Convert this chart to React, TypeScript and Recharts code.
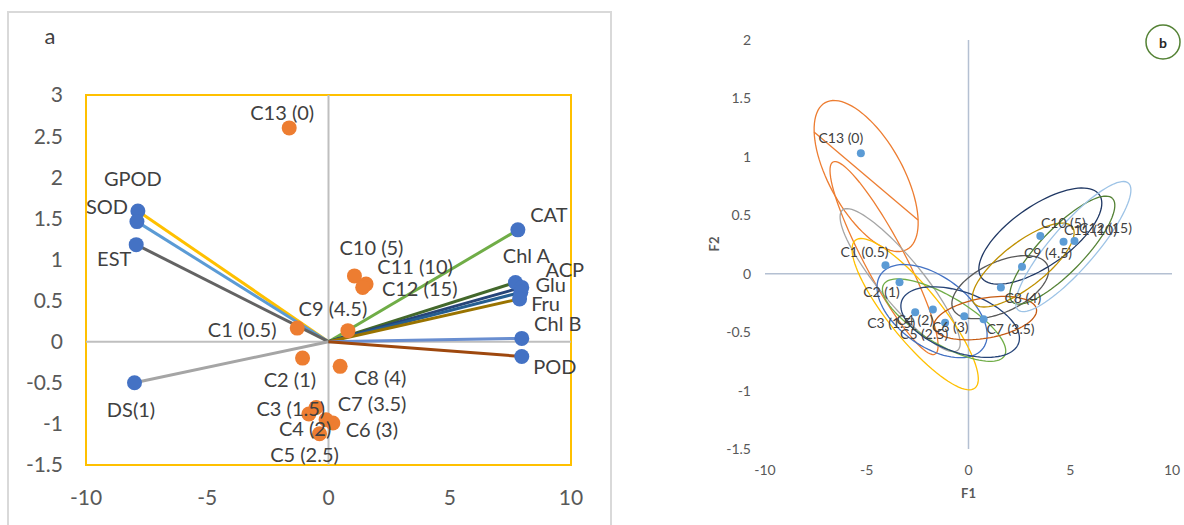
import React from 'react';
import { ScatterChart, Scatter, XAxis, YAxis, ReferenceLine, ReferenceArea } from 'recharts';

const FONT = 'Lato, "Open Sans", "DejaVu Sans", sans-serif';

// ---------- Panel a: variable loadings (vectors drawn from the origin) ----------
const loadingNames = ['GPOD', 'SOD', 'EST', 'DS(1)', 'CAT', 'Chl A', 'ACP', 'Glu', 'Fru', 'Chl B', 'POD'];
const loadingF1 = [-7.86, -7.9, -7.93, -8.0, 7.81, 7.71, 7.97, 7.93, 7.88, 7.97, 7.97];
const loadingF2 = [1.59, 1.46, 1.18, -0.5, 1.36, 0.72, 0.66, 0.6, 0.52, 0.04, -0.18];
const loadingColors = ['#FFC000', '#5B9BD5', '#636363', '#A5A5A5', '#70AD47', '#43682B', '#264478', '#255E91', '#997300', '#698ED0', '#9E480E'];

// ---------- Observations (concentration groups) ----------
const obsNames = ['C1 (0.5)', 'C2 (1)', 'C3 (1.5)', 'C4 (2)', 'C5 (2.5)', 'C6 (3)', 'C7 (3.5)', 'C8 (4)', 'C9 (4.5)', 'C10 (5)', 'C11 (10)', 'C12 (15)', 'C13 (0)'];
// scores as plotted in panel a
const obsAF1 = [-1.29, -1.07, -0.81, -0.51, -0.37, 0.18, -0.1, 0.48, 0.8, 1.07, 1.55, 1.41, -1.62];
const obsAF2 = [0.165, -0.2, -0.88, -0.8, -1.12, -0.99, -0.95, -0.3, 0.134, 0.8, 0.7, 0.66, 2.6];
// scores as plotted in panel b
const obsBF1 = [-4.08, -3.39, -2.62, -1.75, -1.15, -0.21, 0.74, 1.59, 2.63, 3.53, 4.67, 5.21, -5.29];
const obsBF2 = [0.072, -0.074, -0.33, -0.306, -0.42, -0.363, -0.389, -0.117, 0.059, 0.322, 0.273, 0.279, 1.03];

// ---------- Panel b: confidence ellipses (centre + two conjugate half-axes, in F1/F2 units) ----------
const ellipseCenters: [number, number][] = [
  [-5.03, 0.836], [-4.15, 0.134], [-3.36, -0.055], [-2.62, -0.346], [-1.79, -0.32], [-1.2, -0.397],
  [-0.41, -0.414], [0.82, -0.38], [1.56, -0.115], [3.53, 0.322], [2.69, 0.074], [4.61, 0.202], [5.15, 0.232],
];
const ellipseAxisU: [number, number][] = [
  [2.01, -0.628], [2.51, -0.822], [2.83, -0.6], [2.94, -0.632], [2.51, -0.317], [2.97, -0.305],
  [2.87, -0.182], [2.52, 0.077], [2.32, 0.188], [2.9, 0.354], [2.41, 0.327], [2.46, 0.443], [2.71, 0.543],
];
const ellipseAxisV: [number, number][] = [
  [-1.58, -0.153], [-0.868, -0.08], [-0.836, -0.12], [-0.99, -0.14], [-1.01, -0.242], [-0.6, -0.177],
  [-0.504, -0.241], [0.171, -0.169], [0.52, -0.194], [0.847, -0.21], [0.667, -0.148], [0.778, -0.131], [0.817, -0.124],
];
const ellipseColors = ['#ED7D31', '#ED7D31', '#A5A5A5', '#FFC000', '#4472C4', '#70AD47', '#264478', '#C55A11', '#595959', '#203864', '#BF9000', '#548235', '#9DC3E6'];
// extra orange stroke across the C13 ellipse
const strokeC13F1 = [-7.59, -2.48];
const strokeC13F2 = [1.212, 0.459];

const ticksA_X = [-10, -5, 0, 5, 10];
const ticksA_Y = [-1.5, -1, -0.5, 0, 0.5, 1, 1.5, 2, 2.5, 3];
const ticksB_X = [-10, -5, 0, 5, 10];
const ticksB_Y = [-1.5, -1, -0.5, 0, 0.5, 1, 1.5, 2];

// label placement (pixel offsets from the marker)
const labelOffsetA: Record<string, [number, number]> = {
  GPOD: [-5, -33], SOD: [-30, -15.5], EST: [-22, 13], 'DS(1)': [-3.5, 26.5], CAT: [31, -16],
  'Chl A': [11, -27], ACP: [43, -18], Glu: [30, -8], Fru: [26, 4], 'Chl B': [36, -15], POD: [33, 10],
  'C13 (0)': [-7, -15.5], 'C10 (5)': [17, -29], 'C11 (10)': [49, -18], 'C12 (15)': [57, 0.5],
  'C9 (4.5)': [-15, -23], 'C1 (0.5)': [-55, 0.6], 'C2 (1)': [-12.6, 20.5], 'C8 (4)': [40, 11],
  'C7 (3.5)': [46, -17], 'C6 (3)': [39, 6], 'C3 (1.5)': [-18, -6.5], 'C4 (2)': [-11, 21], 'C5 (2.5)': [-15, 20.6],
};
const labelOffsetB: Record<string, [number, number]> = {
  'C13 (0)': [-20, -15.5], 'C1 (0.5)': [-21, -14], 'C2 (1)': [-18, 9], 'C3 (1.5)': [-24, 10],
  'C4 (2)': [-18, 10], 'C5 (2.5)': [-21, 11], 'C6 (3)': [-14, 10], 'C7 (3.5)': [27, 9],
  'C8 (4)': [22, 10], 'C9 (4.5)': [26, -14], 'C10 (5)': [23, -13.5], 'C11 (10)': [27, -12.7], 'C12 (15)': [31, -13.5],
};

const loadingPoints = loadingNames.map((name, i) => ({ name, x: loadingF1[i], y: loadingF2[i] }));
const obsAPoints = obsNames.map((name, i) => ({ name, x: obsAF1[i], y: obsAF2[i] }));
const obsBPoints = obsNames.map((name, i) => ({ name, x: obsBF1[i], y: obsBF2[i] }));

function ellipseOutline(i: number) {
  const [cx, cy] = ellipseCenters[i];
  const [ux, uy] = ellipseAxisU[i];
  const [vx, vy] = ellipseAxisV[i];
  const pts: { x: number; y: number }[] = [];
  for (let k = 0; k <= 90; k++) {
    const t = (k / 90) * Math.PI * 2;
    const c = Math.cos(t);
    const s = Math.sin(t);
    pts.push({ x: cx + ux * c + vx * s, y: cy + uy * c + vy * s });
  }
  return pts;
}

const Hidden = () => <g />;

const dot = (fill: string, r: number) => (p: any) => <circle cx={p.cx} cy={p.cy} r={r} fill={fill} />;

const label = (offsets: Record<string, [number, number]>, size: number, color: string) => (p: any) => {
  const name = p.payload?.name ?? p.name;
  const off = offsets[name] || [0, 0];
  return (
    <text x={p.cx + off[0]} y={p.cy + off[1]} textAnchor="middle" dominantBaseline="central"
      fontFamily={FONT} fontSize={size} fill={color}>
      {name}
    </text>
  );
};

function PanelA() {
  return (
    <ScatterChart width={612} height={525} margin={{ top: 95, right: 41, left: 26, bottom: 20 }}>
      <XAxis type="number" dataKey="x" domain={[-10, 10]} ticks={ticksA_X} axisLine={false} tickLine={false}
        tickSize={0} tickMargin={25} height={40} tick={{ fill: '#595959', fontSize: 21, fontFamily: FONT }} />
      <YAxis type="number" dataKey="y" domain={[-1.5, 3]} ticks={ticksA_Y} axisLine={false} tickLine={false}
        tickSize={0} tickMargin={23} width={60} tick={{ fill: '#595959', fontSize: 21, fontFamily: FONT }} />
      <ReferenceArea x1={-10} x2={10} y1={-1.5} y2={3} fill="none" stroke="#FFC000" strokeWidth={2} />
      <ReferenceLine x={0} stroke="#BFBFBF" strokeWidth={2} />
      <ReferenceLine y={0} stroke="#BFBFBF" strokeWidth={2} />
      {loadingPoints.map((p, i) => (
        <Scatter key={p.name} data={[{ x: 0, y: 0 }, { x: p.x, y: p.y }]} line={{ stroke: loadingColors[i], strokeWidth: 3 }}
          shape={Hidden} isAnimationActive={false} />
      ))}
      <Scatter data={loadingPoints} shape={dot('#4472C4', 7.5)} isAnimationActive={false} />
      <Scatter data={obsAPoints} shape={dot('#ED7D31', 7.5)} isAnimationActive={false} />
      <Scatter data={loadingPoints} shape={label(labelOffsetA, 20, '#404040')} isAnimationActive={false} />
      <Scatter data={obsAPoints} shape={label(labelOffsetA, 20, '#404040')} isAnimationActive={false} />
    </ScatterChart>
  );
}

function PanelB() {
  return (
    <ScatterChart width={572} height={525} margin={{ top: 40, right: 12, left: 113, bottom: 46 }}>
      <XAxis type="number" dataKey="x" domain={[-10, 10]} ticks={ticksB_X} axisLine={false} tickLine={false}
        tickSize={0} tickMargin={16} height={30} tick={{ fill: '#595959', fontSize: 14, fontFamily: FONT }} />
      <YAxis type="number" dataKey="y" domain={[-1.5, 2]} ticks={ticksB_Y} axisLine={false} tickLine={false}
        tickSize={0} tickMargin={14} width={40} tick={{ fill: '#595959', fontSize: 14, fontFamily: FONT }} />
      <ReferenceLine x={0} stroke="#B4C0D2" strokeWidth={1.5} />
      <ReferenceLine y={0} stroke="#B4C0D2" strokeWidth={1.5} />
      {ellipseCenters.map((_, i) => (
        <Scatter key={'e' + i} data={ellipseOutline(i)} line={{ stroke: ellipseColors[i], strokeWidth: 1.3 }}
          shape={Hidden} isAnimationActive={false} />
      ))}
      <Scatter data={strokeC13F1.map((x, i) => ({ x, y: strokeC13F2[i] }))} line={{ stroke: '#ED7D31', strokeWidth: 1.3 }}
        shape={Hidden} isAnimationActive={false} />
      <Scatter data={obsBPoints} shape={dot('#5B9BD5', 4)} isAnimationActive={false} />
      <Scatter data={obsBPoints} shape={label(labelOffsetB, 14, '#404040')} isAnimationActive={false} />
    </ScatterChart>
  );
}

export default function App() {
  return (
    <div style={{ position: 'fixed', left: 0, top: 0, width: 1184, height: 525, overflow: 'hidden', background: '#fff' }}>
      <div style={{ position: 'absolute', left: 7, top: 11, width: 605, height: 600, border: '2px solid #D9D9D9', boxSizing: 'border-box' }} />
      <div style={{ position: 'absolute', left: 0, top: 0 }}>
        <PanelA />
      </div>
      <div style={{ position: 'absolute', left: 612, top: 0 }}>
        <PanelB />
      </div>
      <svg width={1184} height={525} style={{ position: 'absolute', left: 0, top: 0, pointerEvents: 'none' }}>
        <text x={50} y={44} textAnchor="middle" fontFamily={FONT} fontSize={22} fill="#404040">a</text>
        <circle cx={1163} cy={42} r={17} fill="#fff" stroke="#548235" strokeWidth={1.5} />
        <text x={1163} y={42} textAnchor="middle" dominantBaseline="central" fontFamily={FONT} fontSize={14} fontWeight={700} fill="#262626">b</text>
        <text x={968.5} y={493} textAnchor="middle" dominantBaseline="central" fontFamily={FONT} fontSize={13} fontWeight={700} fill="#595959">F1</text>
        <text x={714} y={244} textAnchor="middle" dominantBaseline="central" fontFamily={FONT} fontSize={13} fontWeight={700} fill="#595959"
          transform="rotate(-90 714 244)">F2</text>
      </svg>
    </div>
  );
}
